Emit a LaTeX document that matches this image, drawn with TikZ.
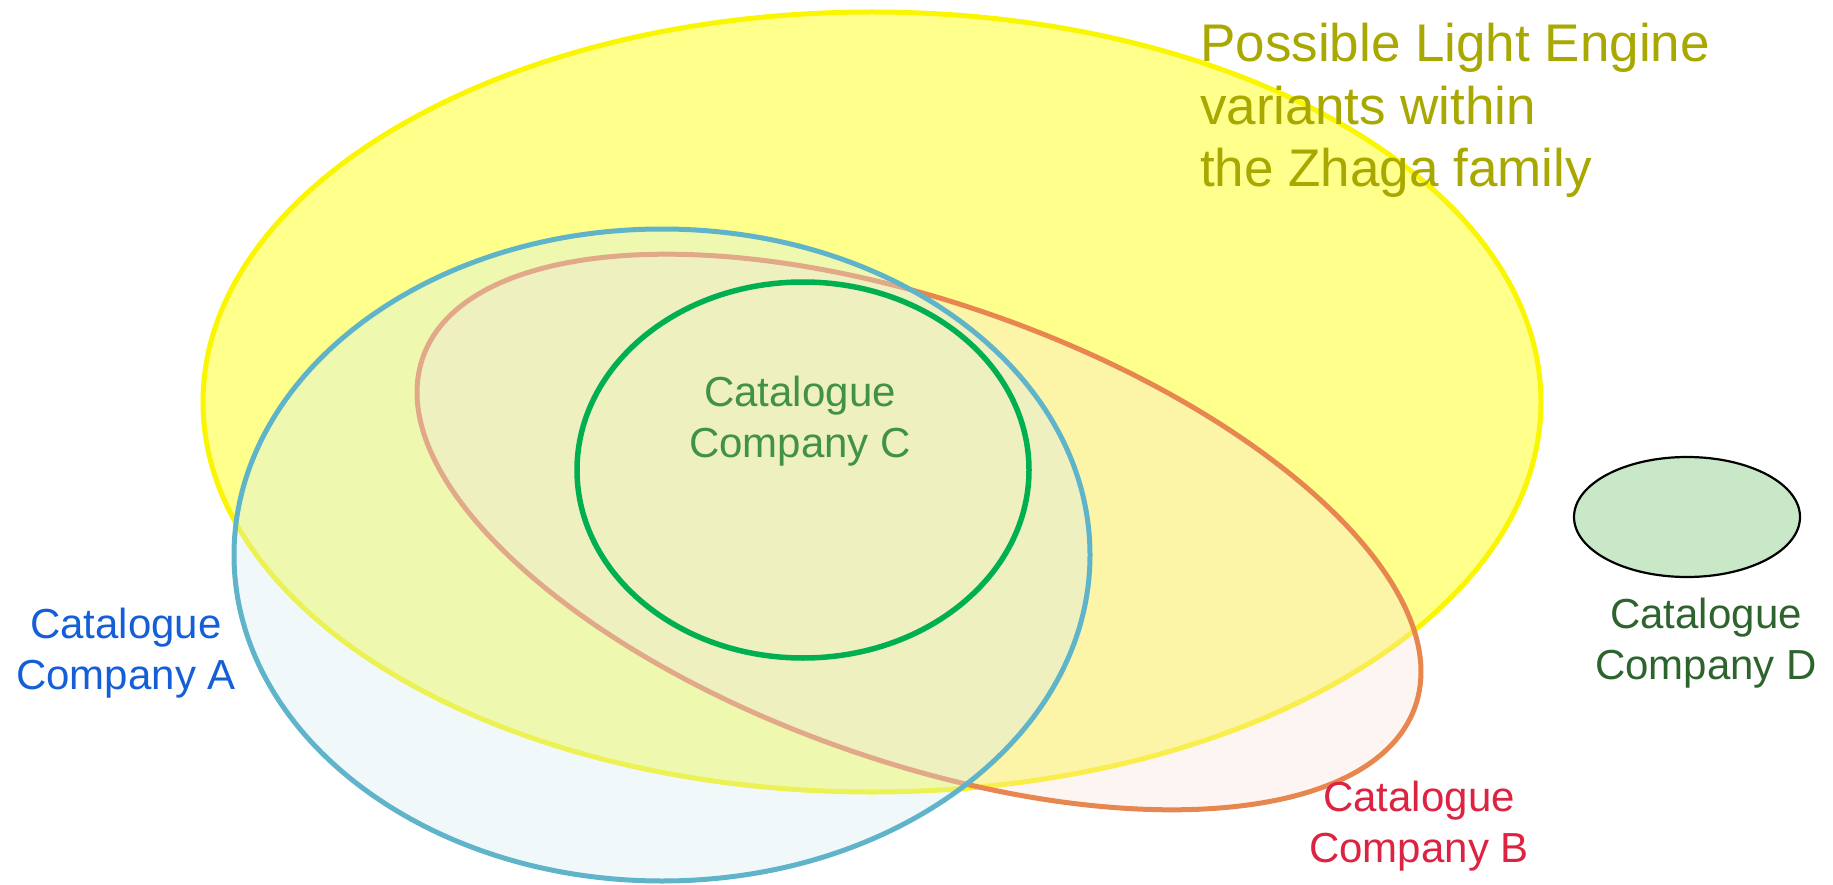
\documentclass[tikz,border=0pt]{standalone}
\usepackage{fontspec}
\setmainfont{Liberation Sans}
\usetikzlibrary{shapes.geometric}
\definecolor{yelfill}{RGB}{255,255,140}
\definecolor{yelline}{RGB}{250,245,0}
\definecolor{aline}{RGB}{95,180,202}
\definecolor{afill}{RGB}{212,235,241}
\definecolor{bline}{RGB}{232,134,80}
\definecolor{bfill}{RGB}{248,225,215}
\definecolor{cline}{RGB}{0,176,80}
\definecolor{dfill}{RGB}{200,232,200}
\definecolor{ttitle}{RGB}{168,168,0}
\definecolor{ta}{RGB}{20,95,215}
\definecolor{tb}{RGB}{220,35,65}
\definecolor{tc}{RGB}{65,145,70}
\definecolor{td}{RGB}{45,100,45}
\tikzset{
  setshape/.style={ellipse, inner sep=0pt, outer sep=0pt},
  lbl/.style={align=center, inner sep=0pt, font=\fontsize{42}{51}\selectfont},
}
\begin{document}
\begin{tikzpicture}[x=1pt,y=1pt]
\useasboundingbox (0,0) rectangle (1833,-885);
% Zhaga family (yellow)
\node[setshape, draw=yelline, line width=5pt, fill=yelfill,
  minimum width=1338pt, minimum height=780pt] (Y) at (872,-402) {};
% Company B (orange, rotated)
\node[setshape, draw=bline, line width=5pt, fill=bfill, fill opacity=0.35, draw opacity=1,
  minimum width=1052pt, minimum height=458pt, rotate=-19.4] (B) at (919,-532) {};
% Company A (blue)
\node[setshape, draw=aline, line width=5pt, fill=afill, fill opacity=0.35, draw opacity=1,
  minimum width=856pt, minimum height=652pt] (A) at (662,-555) {};
% Company C (green)
\node[setshape, draw=cline, line width=5.5pt,
  minimum width=452pt, minimum height=376pt] (C) at (803,-470) {};
% Company D
\node[setshape, draw=black, line width=2.2pt, fill=dfill,
  minimum width=226pt, minimum height=120pt] (D) at (1687,-517) {};
% Labels
\node[anchor=north west, align=left, inner sep=0pt, text=ttitle,
  font=\fontsize{53}{62.5}\selectfont] (title) at (1200,-23.3)
  {Possible Light Engine\\variants within\\the Zhaga family};
\node[lbl, text=ta] (la) at (126,-653.6) {Catalogue\\Company A};
\node[lbl, text=tb] (lb) at (1419,-826) {Catalogue\\Company B};
\node[lbl, text=tc] (lc) at (800,-421.6) {Catalogue\\Company C};
\node[lbl, text=td] (ld) at (1706,-643) {Catalogue\\Company D};
\end{tikzpicture}
\end{document}
